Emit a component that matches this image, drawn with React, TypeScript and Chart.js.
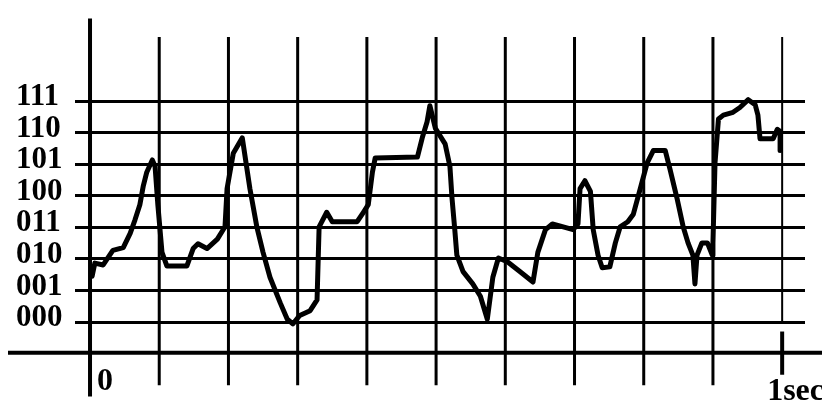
import React, { useEffect, useRef } from "react";
import { Chart, registerables } from "chart.js";

Chart.register(...registerables);

// Quantisation levels (y axis tick labels, values 0..7)
const levelLabels = ["000", "001", "010", "011", "100", "101", "110", "111"];
// Time grid (vertical lines), 0 .. 10 divisions
const timeTicks = [0, 1, 2, 3, 4, 5, 6, 7, 8, 9, 10];
const timeLabels = ["0", "1sec"];
const baselineLevel = -0.97;

// Sampled analog signal, time in divisions, value in level units
const signalT = [
  0.03, 0.07, 0.19, 0.33, 0.48, 0.58, 0.65, 0.72, 0.77, 0.82, 0.9, 0.94, 0.98, 1.04, 1.11,
  1.4, 1.49, 1.56, 1.69, 1.84, 1.95, 1.98, 2.07, 2.2, 2.31, 2.41, 2.5, 2.6, 2.75, 2.85,
  2.93, 3.03, 3.18, 3.28, 3.31, 3.42, 3.5, 3.86, 3.95, 4.02, 4.08, 4.12, 4.73, 4.8, 4.87,
  4.91, 4.99, 5.13, 5.2, 5.23, 5.27, 5.3, 5.39, 5.53, 5.64, 5.74, 5.82, 5.9, 6.03, 6.21,
  6.4, 6.47, 6.58, 6.68, 6.98, 7.05, 7.08, 7.15, 7.23, 7.27, 7.34, 7.4, 7.51, 7.59, 7.66,
  7.77, 7.85, 7.95, 8.05, 8.14, 8.31, 8.38, 8.48, 8.57, 8.64, 8.71, 8.74, 8.77, 8.84, 8.92,
  8.99, 9.0, 9.03, 9.08, 9.15, 9.29, 9.39, 9.51, 9.61, 9.65, 9.68, 9.87, 9.93, 9.97, 9.97,
];
const signalV = [
  1.45, 1.87, 1.81, 2.27, 2.36, 2.81, 3.24, 3.72, 4.32, 4.75, 5.14, 4.93, 3.72, 2.21, 1.78,
  1.78, 2.33, 2.48, 2.33, 2.63, 3.02, 4.23, 5.35, 5.84, 4.23, 3.02, 2.21, 1.42, 0.6, 0.09,
  -0.06, 0.21, 0.36, 0.7, 3.02, 3.48, 3.18, 3.18, 3.48, 3.72, 4.75, 5.2, 5.23, 5.84, 6.35,
  6.86, 6.14, 5.65, 4.93, 3.93, 2.93, 2.12, 1.6, 1.21, 0.82, 0.09, 1.42, 2.03, 1.91, 1.6,
  1.27, 2.21, 2.93, 3.11, 2.93, 3.11, 4.23, 4.48, 4.14, 2.93, 2.12, 1.72, 1.75, 2.51, 3.02,
  3.18, 3.42, 4.23, 5.05, 5.44, 5.44, 4.84, 3.93, 3.02, 2.51, 2.12, 1.21, 2.12, 2.51, 2.51,
  2.12, 2.51, 5.05, 6.44, 6.56, 6.65, 6.8, 7.05, 6.89, 6.56, 5.81, 5.81, 6.11, 6.05, 5.44,
];

const scanGrid = {
  id: "scanGrid",
  beforeDatasetsDraw(chart: any) {
    const { ctx } = chart;
    const x = chart.scales.x;
    const y = chart.scales.y;
    ctx.save();
    ctx.strokeStyle = "#000";
    ctx.fillStyle = "#000";
    ctx.lineCap = "butt";

    // baseline (time axis)
    const by = y.getPixelForValue(baselineLevel);
    ctx.lineWidth = 4;
    ctx.beginPath();
    ctx.moveTo(8, by);
    ctx.lineTo(chart.width, by);
    ctx.stroke();

    // vertical time lines
    const n = timeTicks.length;
    timeTicks.forEach((t, i) => {
      const px = x.getPixelForValue(t);
      const first = i === 0;
      const last = i === n - 1;
      const top = y.getPixelForValue(first ? 9.62 : 9.04);
      const bottom = y.getPixelForValue(first ? -2.36 : last ? 0 : -2.0);
      ctx.lineWidth = first ? 4 : last ? 2 : 3;
      ctx.beginPath();
      ctx.moveTo(px, top);
      ctx.lineTo(px, bottom);
      ctx.stroke();
      if (last) {
        ctx.lineWidth = 4;
        ctx.beginPath();
        ctx.moveTo(px, y.getPixelForValue(-0.3));
        ctx.lineTo(px, y.getPixelForValue(-1.67));
        ctx.stroke();
      }
    });

    // time labels
    ctx.font = "bold 32px 'Liberation Serif', serif";
    ctx.textBaseline = "middle";
    ctx.textAlign = "left";
    ctx.fillText(timeLabels[0], x.getPixelForValue(timeTicks[0]) + 7, y.getPixelForValue(-1.9));
    ctx.fillText(timeLabels[1], x.getPixelForValue(timeTicks[n - 1]) - 15, y.getPixelForValue(-2.2));
    ctx.restore();
  },
};

export default function App() {
  const canvasRef = useRef<HTMLCanvasElement | null>(null);

  useEffect(() => {
    if (!canvasRef.current) return;
    const points = signalT.map((t, i) => ({ x: t, y: signalV[i] }));
    const chart = new Chart(canvasRef.current, {
      type: "line",
      data: {
        datasets: [
          {
            data: points,
            borderColor: "#000",
            borderWidth: 5,
            pointRadius: 0,
            tension: 0,
            borderJoinStyle: "round",
            borderCapStyle: "round",
          },
        ],
      },
      options: {
        animation: false,
        responsive: true,
        maintainAspectRatio: false,
        layout: { padding: { left: 16, right: 17, top: 12, bottom: 7 } },
        plugins: { legend: { display: false }, tooltip: { enabled: false } },
        scales: {
          x: { type: "linear", min: -0.217, max: 10.33, display: false },
          y: {
            type: "linear",
            min: -2.42,
            max: 9.62,
            afterBuildTicks: (scale: any) => {
              scale.ticks = levelLabels.map((_, i) => ({ value: i }));
            },
            afterFit: (scale: any) => {
              scale.width = 59;
            },
            border: { display: false },
            grid: { color: "#000", lineWidth: 3, drawTicks: false, tickLength: 0 },
            ticks: {
              callback: (_v: any, i: number) => levelLabels[i],
              color: "#000",
              font: { family: "'Liberation Serif', serif", size: 31, weight: "bold" },
              crossAlign: "far",
              padding: 0,
              labelOffset: -4,
            },
          },
        },
      },
      plugins: [scanGrid],
    });
    return () => chart.destroy();
  }, []);

  return (
    <div style={{ position: "absolute", left: 0, top: 0, width: 822, height: 417, background: "#fff" }}>
      <canvas ref={canvasRef} />
    </div>
  );
}
